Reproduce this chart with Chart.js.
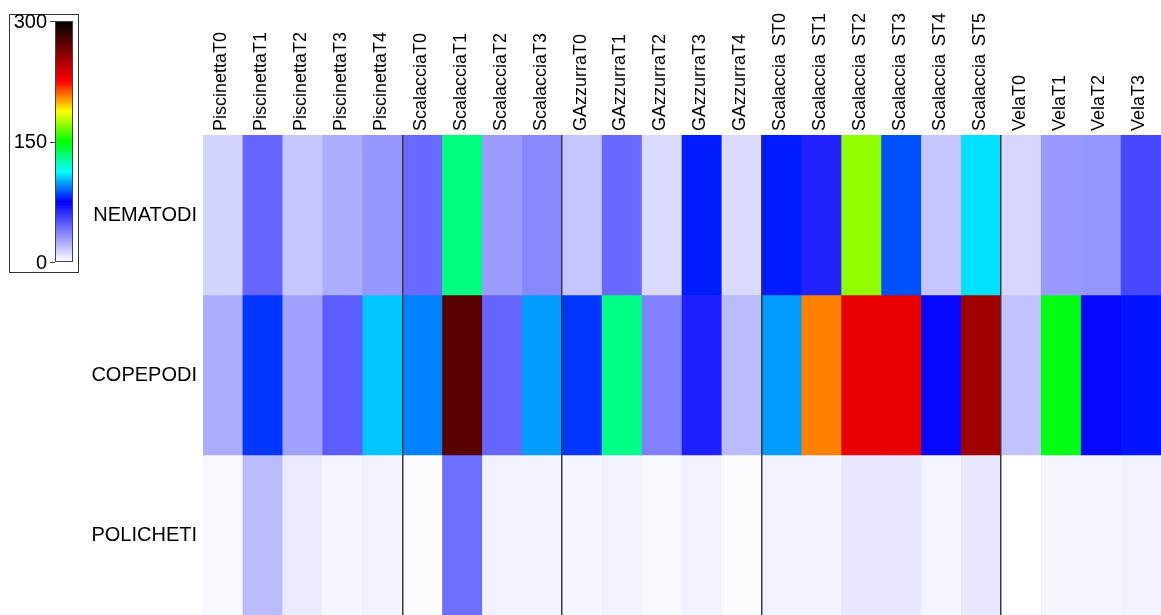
<!DOCTYPE html>
<html>
<head>
<meta charset="utf-8">
<script src="https://cdn.jsdelivr.net/npm/chart.js@4/dist/chart.umd.min.js"></script>
<style>
  html, body { margin: 0; padding: 0; background: #ffffff; }
  #wrap { width: 1161px; height: 615px; position: relative; }
</style>
</head>
<body>
<div id="wrap"><canvas id="c" width="1161" height="615"></canvas></div>
<script>
// ---- data ----
const columns = [
  'PiscinettaT0','PiscinettaT1','PiscinettaT2','PiscinettaT3','PiscinettaT4',
  'ScalacciaT0','ScalacciaT1','ScalacciaT2','ScalacciaT3',
  'GAzzurraT0','GAzzurraT1','GAzzurraT2','GAzzurraT3','GAzzurraT4',
  'Scalaccia ST0','Scalaccia ST1','Scalaccia ST2','Scalaccia ST3','Scalaccia ST4','Scalaccia ST5',
  'VelaT0','VelaT1','VelaT2','VelaT3'
];
const rowNames = ['NEMATODI','COPEPODI','POLICHETI'];
const nematodi  = [13, 45, 17, 24, 31, 44, 131, 29, 35, 17, 44, 11, 79, 11, 79, 65, 171, 87, 17, 108, 12, 30, 31, 54];
const copepodi  = [24, 83, 28, 48, 104, 94, 274, 45, 98, 83, 130, 37, 66, 20, 98, 206, 232, 231, 73, 253, 18, 147, 73, 78];
const policheti = [2, 20, 6, 3, 4, 1, 43, 4, 4, 3, 4, 2, 4, 1, 4, 4, 7, 7, 3, 7, 0, 3, 3, 4];
const colorbarTicks = [0, 150, 300];
const groupBreaks = [5, 9, 14, 20];   // column index where a new site group starts
const scaleMax = 300;
const cmapStops = [0, 75, 112.5, 150, 187.5, 225, 300];
const cmapColors = [[255,255,255],[0,0,255],[0,255,255],[0,255,0],[255,255,0],[255,0,0],[0,0,0]];

// ---- colour map ----
function colorFor(v) {
  v = Math.max(0, Math.min(scaleMax, v));
  for (let i = 1; i < cmapStops.length; i++) {
    if (v <= cmapStops[i]) {
      const t = (v - cmapStops[i-1]) / (cmapStops[i] - cmapStops[i-1]);
      const a = cmapColors[i-1], b = cmapColors[i];
      const c = a.map((x, k) => Math.round(x + (b[k] - x) * t));
      return `rgb(${c[0]},${c[1]},${c[2]})`;
    }
  }
  const l = cmapColors[cmapColors.length-1];
  return `rgb(${l[0]},${l[1]},${l[2]})`;
}

const rowValues = [nematodi, copepodi, policheti];
const datasets = rowValues.map((vals, r) => ({
  label: rowNames[r],
  data: vals.map(() => [r, r + 1]),
  backgroundColor: vals.map(colorFor),
  borderWidth: 0,
  barPercentage: 1.0,
  categoryPercentage: 1.0,
  grouped: false
}));

Chart.defaults.font.family = '"Liberation Sans", Arial, Helvetica, sans-serif';
Chart.defaults.color = '#000000';

const overlayPlugin = {
  id: 'overlay',
  beforeDraw(chart) {
    try { chart.ctx.wordSpacing = '3px'; } catch (e) {}
  },
  afterDatasetsDraw(chart) {
    const ctx = chart.ctx;
    const xs = chart.scales.x;
    const area = chart.chartArea;
    ctx.save();
    ctx.strokeStyle = '#3a3a3a';
    ctx.lineWidth = 1.5;
    groupBreaks.forEach(b => {
      const x = Math.round(xs.getPixelForValue(b - 0.5)) - 0.25;
      ctx.beginPath();
      ctx.moveTo(x, area.top);
      ctx.lineTo(x, area.bottom);
      ctx.stroke();
    });
    ctx.restore();
  },
  afterDraw(chart) {
    const ctx = chart.ctx;
    ctx.save();
    // outer box
    ctx.strokeStyle = '#333333';
    ctx.lineWidth = 1;
    ctx.strokeRect(9.5, 14.5, 69, 258);
    // bar
    const bx = 55, bw = 18, yTop = 21, yBot = 262;
    const g = ctx.createLinearGradient(0, yBot, 0, yTop);
    cmapStops.forEach((s, i) => {
      const c = cmapColors[i];
      g.addColorStop(s / scaleMax, `rgb(${c[0]},${c[1]},${c[2]})`);
    });
    ctx.fillStyle = g;
    ctx.fillRect(bx, yTop, bw, yBot - yTop);
    ctx.strokeStyle = '#444444';
    ctx.strokeRect(bx + 0.5, yTop + 0.5, bw - 1, yBot - yTop - 1);
    // ticks & labels
    ctx.fillStyle = '#000000';
    ctx.font = '20px "Liberation Sans", Arial, sans-serif';
    ctx.textAlign = 'right';
    ctx.textBaseline = 'middle';
    colorbarTicks.forEach(t => {
      const y = yBot - (t / scaleMax) * (yBot - yTop);
      ctx.beginPath();
      ctx.moveTo(50, Math.round(y) + 0.5);
      ctx.lineTo(55, Math.round(y) + 0.5);
      ctx.stroke();
      ctx.fillText(String(t), 47, y + 1);
    });
    ctx.restore();
  }
};

new Chart(document.getElementById('c'), {
  type: 'bar',
  data: { labels: columns, datasets: datasets },
  options: {
    responsive: false,
    animation: false,
    devicePixelRatio: 1,
    layout: { padding: 0 },
    plugins: { legend: { display: false }, tooltip: { enabled: false }, title: { display: false } },
    scales: {
      x: {
        position: 'top',
        offset: true,
        grid: { display: false, drawTicks: false },
        border: { display: false },
        ticks: {
          autoSkip: false, minRotation: 90, maxRotation: 90, padding: 4,
          labelOffset: 20,
          font: { size: 18 }, color: '#000000'
        },
        afterFit(scale) { scale.height = 135; scale.paddingLeft = 0; scale.paddingRight = 0; }
      },
      y: {
        type: 'linear',
        min: 0, max: 3, reverse: true,
        grid: { display: false, drawTicks: false },
        border: { display: false },
        afterBuildTicks(scale) { scale.ticks = rowNames.map((_, i) => ({ value: i + 0.5 })); },
        ticks: {
          padding: 6,
          font: { size: 20 }, color: '#000000',
          callback: (v) => rowNames[Math.floor(v)]
        },
        afterFit(scale) { scale.width = 203; scale.paddingTop = 0; scale.paddingBottom = 0; }
      }
    }
  },
  plugins: [overlayPlugin]
});
</script>
</body>
</html>
